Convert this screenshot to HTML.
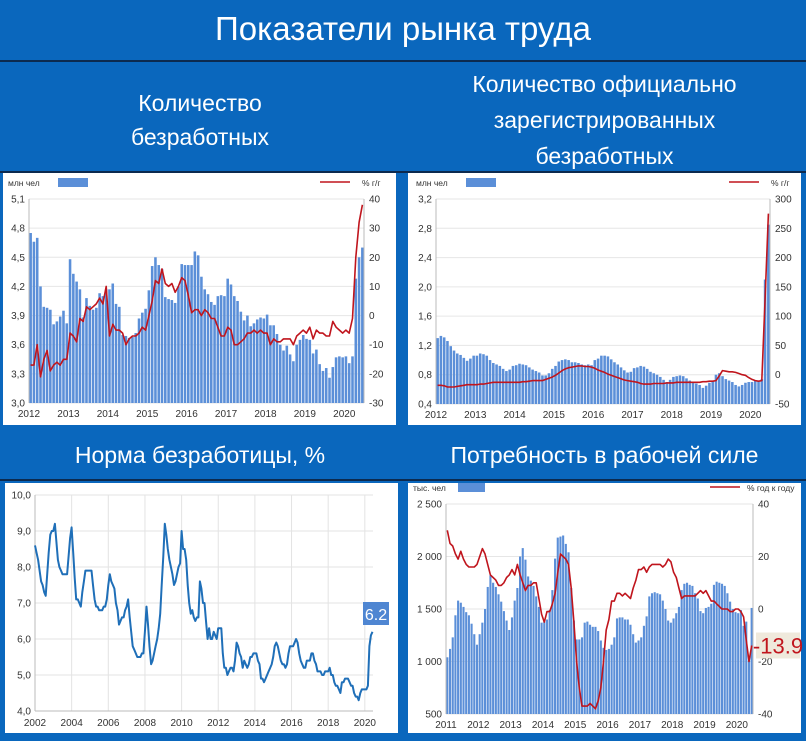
<!DOCTYPE html>
<html><head><meta charset="utf-8">
<style>
html,body{margin:0;padding:0;}
body{width:806px;height:741px;background:#0a67bd;position:relative;overflow:hidden;font-family:"Liberation Sans",sans-serif;}
.t{position:absolute;color:#fff;text-align:center;font-family:"Liberation Sans",sans-serif;}
.line{position:absolute;left:0;width:806px;height:2px;background:#0c2a4f;}
.panel{position:absolute;background:#fff;}
svg{position:absolute;left:0;top:0;}
</style></head><body>
<div class="t" style="left:0;top:10px;width:806px;font-size:33px;">Показатели рынка труда</div>
<div class="line" style="top:60px"></div>
<div class="t" style="left:0;top:86px;width:400px;font-size:23px;line-height:34px;">Количество<br>безработных</div>
<div class="t" style="left:403px;top:66px;width:403px;font-size:23px;line-height:36px;">Количество официально<br>зарегистрированных<br>безработных</div>
<div class="line" style="top:171px"></div>
<div class="panel" style="left:3px;top:173px;width:393px;height:252px"></div>
<div class="panel" style="left:408px;top:173px;width:393px;height:252px"></div>
<div class="t" style="left:0;top:442px;width:400px;font-size:23px;">Норма безработицы, %</div>
<div class="t" style="left:403px;top:442px;width:403px;font-size:23px;">Потребность в рабочей силе</div>
<div class="line" style="top:479px"></div>
<div class="panel" style="left:5px;top:483px;width:393px;height:250px"></div>
<div class="panel" style="left:408px;top:483px;width:393px;height:250px"></div>
<svg id="s" width="806" height="741"></svg>
<script>
// Chart 1: unemployed (mln), Jan 2012 - Jun 2020
const c1Years = ["2012","2013","2014","2015","2016","2017","2018","2019","2020"];
const c1LeftTicks = ["3,0","3,3","3,6","3,9","4,2","4,5","4,8","5,1"];
const c1RightTicks = ["-30","-20","-10","0","10","20","30","40"];
const c1Bars = [4.75,4.66,4.70,4.20,3.99,3.98,3.96,3.81,3.84,3.89,3.95,3.82,
4.48,4.33,4.25,4.17,3.88,4.08,4.00,3.96,3.98,4.13,4.10,4.17,
4.17,4.23,4.02,3.99,3.70,3.69,3.67,3.68,3.72,3.87,3.93,3.97,
4.16,4.41,4.50,4.42,4.38,4.09,4.07,4.06,4.03,4.20,4.43,4.42,
4.42,4.42,4.56,4.52,4.30,4.17,4.12,4.04,4.01,4.10,4.11,4.10,
4.28,4.22,4.10,4.05,3.94,3.85,3.90,3.79,3.82,3.86,3.88,3.87,
3.91,3.80,3.80,3.71,3.60,3.54,3.59,3.50,3.43,3.60,3.65,3.70,
3.66,3.65,3.51,3.55,3.40,3.33,3.36,3.26,3.37,3.47,3.48,3.47,
3.48,3.41,3.48,4.28,4.50,4.60];
const c1Line = [-17,-17,-10,-21,-15,-12,-19,-17,-16,-17,-15,-15,
-6,-7,-9,-1,-2,3,2,3,4,6,4,10,
-7,-3,-5,-5,-6,-10,-8,-7,-7,-6,-4,-5,
0,5,12,11,16,11,10,11,8,10,13,12,
7,1,2,2,0,2,1,-1,-1,-4,-7,-7,
-4,-5,-10,-10,-9,-8,-6,-6,-5,-6,-5,-6,
-6,-10,-8,-9,-9,-8,-8,-8,-10,-7,-6,-5,
-6,-4,-8,-5,-6,-6,-7,-7,-2,-4,-5,-6,
-5,-6,-1,20,32,38];
// Chart 2: registered unemployed (mln)
const c2Years = ["2012","2013","2014","2015","2016","2017","2018","2019","2020"];
const c2LeftTicks = ["0,4","0,8","1,2","1,6","2,0","2,4","2,8","3,2"];
const c2RightTicks = ["-50","0","50","100","150","200","250","300"];
const c2Bars = [1.30,1.33,1.31,1.26,1.19,1.13,1.09,1.07,1.03,0.99,1.02,1.06,
1.06,1.09,1.08,1.06,1.00,0.96,0.94,0.92,0.88,0.85,0.87,0.92,
0.93,0.95,0.94,0.93,0.90,0.87,0.85,0.83,0.79,0.79,0.82,0.88,
0.92,0.98,1.00,1.01,1.00,0.97,0.97,0.96,0.94,0.93,0.94,0.93,
1.00,1.02,1.06,1.06,1.05,1.01,0.97,0.94,0.90,0.86,0.83,0.84,
0.89,0.90,0.92,0.91,0.88,0.84,0.82,0.80,0.77,0.73,0.70,0.73,
0.77,0.78,0.79,0.78,0.75,0.72,0.70,0.68,0.66,0.62,0.65,0.69,
0.72,0.80,0.82,0.78,0.74,0.72,0.70,0.66,0.64,0.66,0.69,0.70,
0.70,0.72,0.72,0.74,2.10,2.85];
const c2Line = [-18,-18,-19,-21,-21,-21,-20,-19,-18,-17,-17,-17,
-17,-16,-16,-15,-14,-13,-13,-13,-13,-13,-13,-13,
-13,-13,-12,-12,-11,-10,-10,-10,-10,-8,-6,-4,
-1,3,7,10,12,13,14,15,15,14,14,13,
11,8,6,4,1,-1,-3,-5,-7,-9,-10,-11,
-12,-13,-15,-16,-16,-16,-15,-15,-15,-15,-14,-14,
-14,-13,-13,-13,-13,-13,-13,-13,-13,-12,-12,-11,
-11,-10,-2,7,6,5,5,4,2,0,-1,-5,
-8,-10,-11,-10,130,275];
// Chart 3: unemployment rate %, Jan 2002 - Jun 2020
const c3Years = ["2002","2004","2006","2008","2010","2012","2014","2016","2018","2020"];
const c3Ticks = ["4,0","5,0","6,0","7,0","8,0","9,0","10,0"];
const c3Rate = [8.6,8.4,8.2,7.9,7.6,7.5,7.3,7.2,7.8,8.4,8.9,9.0,
9.0,9.2,8.7,8.2,8.0,7.9,7.8,7.8,7.8,7.8,8.3,8.8,
9.1,8.4,7.7,7.1,7.1,7.0,6.9,7.3,7.6,7.9,7.9,7.9,
7.9,7.9,7.5,7.1,6.9,6.9,6.8,6.8,6.8,6.9,6.9,7.1,
7.5,7.8,7.6,7.5,7.4,7.0,6.8,6.4,6.5,6.6,6.6,6.8,
6.9,7.1,6.6,6.2,5.8,5.7,5.6,5.5,5.5,5.5,5.6,5.6,
6.2,6.9,6.4,5.8,5.3,5.4,5.6,5.8,6.0,6.3,6.7,7.5,
8.3,9.2,8.9,8.5,8.2,8.0,7.8,7.5,7.6,7.8,8.0,8.1,
9.0,8.5,8.5,8.2,7.5,7.0,6.7,6.8,6.6,6.5,6.6,6.6,
7.6,7.4,7.0,7.0,6.5,6.0,6.3,6.0,6.0,6.2,6.1,6.0,
6.3,6.3,6.3,5.6,5.2,5.2,5.0,5.1,5.2,5.2,5.1,5.4,
5.9,5.8,5.6,5.5,5.2,5.4,5.3,5.2,5.3,5.5,5.5,5.6,
5.6,5.6,5.4,5.3,4.9,4.9,4.8,4.9,5.0,5.1,5.2,5.3,
5.5,5.8,5.9,5.8,5.6,5.4,5.3,5.3,5.2,5.3,5.6,5.8,
5.8,5.8,5.9,6.0,5.9,5.6,5.4,5.3,5.2,5.2,5.4,5.4,
5.4,5.6,5.6,5.4,5.3,5.1,5.1,5.1,5.0,5.0,5.1,5.1,
5.1,5.2,5.0,5.0,4.8,4.7,4.7,4.6,4.5,4.8,4.8,4.9,
4.9,4.9,4.8,4.7,4.7,4.5,4.4,4.4,4.3,4.5,4.6,4.6,
4.6,4.6,4.7,5.8,6.1,6.2];
const c3LastLabel = "6.2";
// Chart 4: labour demand (thousand), Jan 2011 - Jun 2020
const c4Years = ["2011","2012","2013","2014","2015","2016","2017","2018","2019","2020"];
const c4LeftTicks = ["500","1 000","1 500","2 000","2 500"];
const c4RightTicks = ["-40","-20","0","20","40"];
const c4Bars = [1040,1120,1230,1440,1580,1560,1520,1470,1440,1360,1260,1160,
1260,1370,1500,1710,1820,1750,1710,1640,1570,1480,1390,1300,
1420,1580,1700,2000,2080,1970,1810,1770,1720,1620,1520,1370,
1380,1400,1490,1680,1980,2180,2190,2200,2120,2040,1700,1390,
1210,1210,1230,1370,1380,1350,1330,1330,1290,1200,1130,1110,
1120,1160,1230,1410,1420,1420,1400,1400,1350,1260,1180,1200,
1230,1340,1430,1620,1650,1660,1650,1640,1580,1500,1390,1370,
1410,1460,1520,1680,1740,1750,1730,1720,1650,1600,1480,1460,
1510,1520,1550,1730,1760,1750,1740,1720,1650,1570,1500,1470,
1460,1490,1340,1380,1010,1510];
const c4Line = [30,25,24,21,19,22,19,17,16,16,16,17,
20,23,21,17,13,12,11,9,9,10,12,13,
15,13,17,13,10,7,9,9,10,10,4,-2,
-5,-1,-1,2,6,14,21,20,19,17,8,-5,
-20,-30,-37,-37,-37,-36,-37,-38,-35,-30,-20,-8,
-4,3,3,6,6,5,6,5,4,8,11,15,
15,16,14,16,17,17,17,17,16,17,19,18,
14,12,8,4,5,5,5,5,5,6,7,6,
7,5,3,3,2,1,0,0,0,-1,-1,0,
0,-1,-3,-12,-20,-13.9];
const c4LastLabel = "-13.9";

const NS="http://www.w3.org/2000/svg";
const svg=document.getElementById('s');
function mk(tag,attrs,parent){const e=document.createElementNS(NS,tag);for(const k in attrs)e.setAttribute(k,attrs[k]);(parent||svg).appendChild(e);return e;}
function txt(x,y,s,anchor,size,fill,parent){const e=mk('text',{x:x,y:y,'text-anchor':anchor,'font-size':size,fill:fill||'#333','font-family':'Liberation Sans, sans-serif'},parent);e.textContent=s;return e;}

function barChart(o){
  const g=mk('g',{});
  
  
  const yL=v=>o.B-(v-o.lmin)/(o.lmax-o.lmin)*(o.B-o.T);
  const yR=v=>o.B-(v-o.rmin)/(o.rmax-o.rmin)*(o.B-o.T);
  const n=o.bars.length, bw=(o.R-o.L)/n;
  const xM=i=>o.L+(i+0.5)*bw;
  o.leftTicks.forEach((t,i)=>{const v=o.lmin+i*(o.lmax-o.lmin)/(o.leftTicks.length-1);const y=yL(v);
    const gl=mk('line',{x1:o.L,x2:o.R,y1:y,y2:y,stroke:'#e6e6e6','stroke-width':1},g);
    
    const tl=txt(o.L-4,y+3.5,t,'end',10,'#333',g);
    });
  o.rightTicks.forEach((t,i)=>{const v=o.rmin+i*(o.rmax-o.rmin)/(o.rightTicks.length-1);const y=yR(v);
    const tl=txt(o.R+5,y+3.5,t,'start',10,'#333',g);
    });
  o.bars.forEach((v,i)=>{const y=yL(v);const b=mk('rect',{x:xM(i)-bw*0.39,y:y,width:bw*0.78,height:o.B-y,fill:'#5b8fd8'},g);
    });
  mk('line',{x1:o.L,x2:o.L,y1:o.T,y2:o.B,stroke:'#bbb'},g);
  mk('line',{x1:o.R,x2:o.R,y1:o.T,y2:o.B,stroke:'#bbb'},g);
  const pts=o.line.map((v,i)=>xM(i).toFixed(1)+','+yR(v).toFixed(1)).join(' ');
  const pl=mk('polyline',{points:pts,fill:'none',stroke:'#c0151d','stroke-width':1.6,'stroke-linejoin':'round'},g);
  
  o.years.forEach((y,i)=>{const tl=txt(o.L+i*12*bw,o.B+14,y,'middle',10,'#333',g);
    });
  const u=txt(o.legX,o.legY,o.unit,'start',8.5,'#333',g);
  const lr=mk('rect',{x:o.rectX,y:o.legY-8,width:o.rectW,height:9,fill:'#5b8fd8'},g);
  const ll=mk('line',{x1:o.lineX,x2:o.lineX+30,y1:o.legY-4,y2:o.legY-4,stroke:'#c0151d','stroke-width':1.6},g);
  const lt=txt(o.lineTxtX,o.legY,o.lineLabel,'start',8.5,'#333',g);
  return {yR:yR,xM:xM,n:n};
}

barChart({name:'unemployed-chart',bars:c1Bars,line:c1Line,years:c1Years,leftTicks:c1LeftTicks,rightTicks:c1RightTicks,
  L:29,R:364,T:199,B:403,lmin:3.0,lmax:5.1,rmin:-30,rmax:40,unit:'млн чел',legX:8,legY:186,rectX:58,rectW:30,lineX:320,lineTxtX:362,lineLabel:'%  г/г'});
barChart({name:'registered-unemployed-chart',bars:c2Bars,line:c2Line,years:c2Years,leftTicks:c2LeftTicks,rightTicks:c2RightTicks,
  L:436,R:770,T:199,B:404,lmin:0.4,lmax:3.2,rmin:-50,rmax:300,unit:'млн чел',legX:416,legY:186,rectX:466,rectW:30,lineX:729,lineTxtX:771,lineLabel:'%  г/г'});
const c4=barChart({name:'labour-demand-chart',bars:c4Bars,line:c4Line,years:c4Years,leftTicks:c4LeftTicks,rightTicks:c4RightTicks,
  L:446,R:753,T:504,B:714,lmin:500,lmax:2500,rmin:-40,rmax:40,unit:'тыс. чел',legX:413,legY:491,rectX:458,rectW:27,lineX:710,lineTxtX:747,lineLabel:'% год к году'});
// -13.9 label
{const y=c4.yR(c4Line[c4Line.length-1]);
 const r=mk('rect',{x:756,y:y-13,width:44,height:26,fill:'#efe9dc'});
 const t=txt(778,y+8,c4LastLabel,'middle',22,'#c0151d');}

// Chart 3 line
{const g=mk('g',{});
 const L=35,R=373,T=495,B=711,ymin=4,ymax=10,step=1.527;
 const y=v=>B-(v-ymin)/(ymax-ymin)*(B-T);
 const x=i=>L+i*step;
 c3Ticks.forEach((t,i)=>{const yy=y(ymin+i);
   const gl=mk('line',{x1:L,x2:R,y1:yy,y2:yy,stroke:'#e3e3e3'},g);
   const tl=txt(L-4,yy+3.5,t,'end',10,'#333',g);});
 c3Years.forEach((t,i)=>{const xx=x(i*24);
   const gl=mk('line',{x1:xx,x2:xx,y1:T,y2:B,stroke:'#e3e3e3'},g);
   const tl=txt(xx,B+15,t,'middle',10,'#333',g);});
 mk('line',{x1:L,x2:L,y1:T,y2:B,stroke:'#bbb'},g);mk('line',{x1:L,x2:R,y1:B,y2:B,stroke:'#bbb'},g);
 const pl=mk('polyline',{points:c3Rate.map((v,i)=>x(i).toFixed(1)+','+y(v).toFixed(1)).join(' '),fill:'none',stroke:'#1f6fb8','stroke-width':2,'stroke-linejoin':'round'},g);
 
 const r=mk('rect',{x:363,y:602,width:26,height:23,fill:'#4f86d2'},g);
 const t=txt(376,620,c3LastLabel,'middle',16,'#fff',g);}
</script>
</body></html>
